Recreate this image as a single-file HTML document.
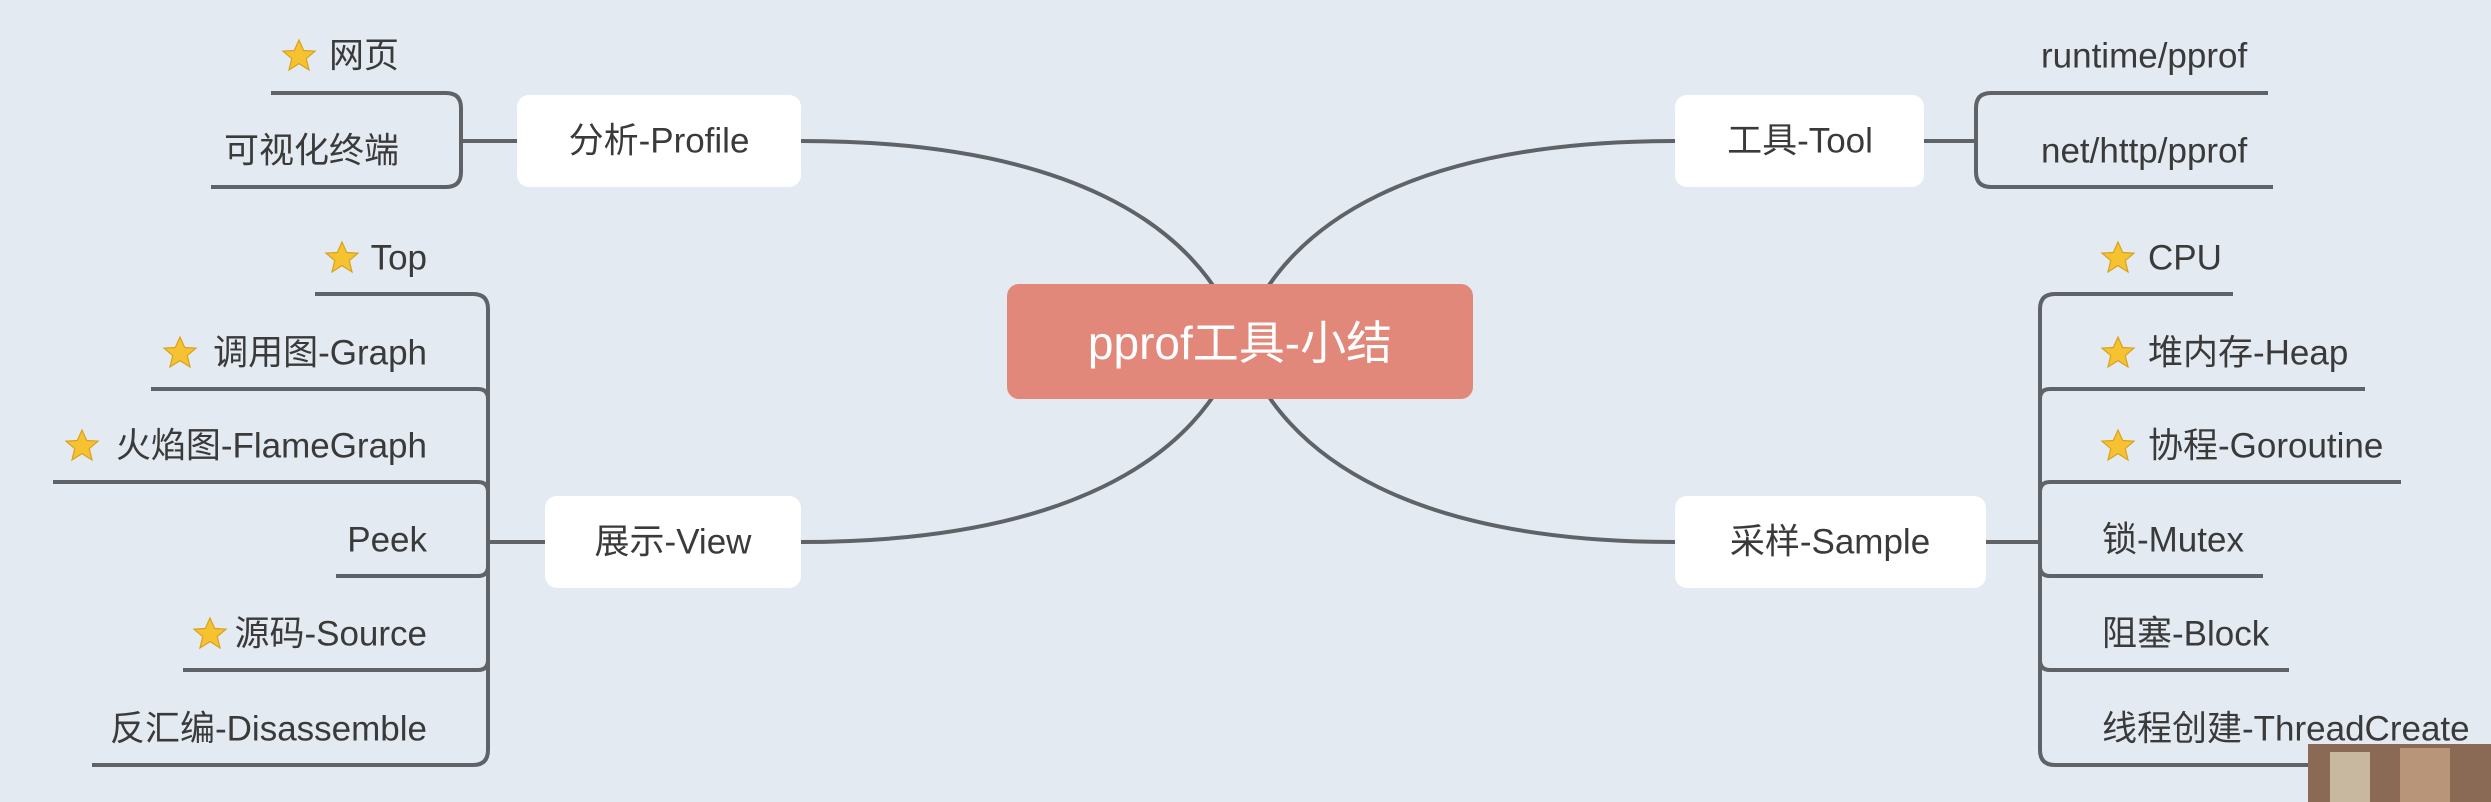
<!DOCTYPE html>
<html><head><meta charset="utf-8"><style>
html,body{margin:0;padding:0;background:#e3eaf1;}
svg{display:block}
text{font-family:"Liberation Sans","Noto Sans CJK SC",sans-serif;fill:#3a3a3a;font-size:35px;dominant-baseline:central}
</style></head><body>
<svg width="2491" height="802" viewBox="0 0 2491 802" xmlns="http://www.w3.org/2000/svg">
<defs>
<g id="star"><polygon points="0,-16 4.7,-5.5 16,-4.9 7.3,2.6 10,14 0,7.6 -10,14 -7.3,2.6 -16,-4.9 -4.7,-5.5" fill="#f6c232" stroke="#d9a21c" stroke-width="1.2"/></g>
</defs>
<g fill="none" stroke="#5f6368" stroke-width="4">
<path d="M801,141 C1060,141 1200,220 1241,341"/>
<path d="M801,542 C1060,542 1200,462 1241,341"/>
<path d="M1675,141 C1420,141 1282,220 1241,341"/>
<path d="M1675,542 C1420,542 1282,462 1241,341"/>
<path d="M271,93 H446 Q461,93 461,108 V172 Q461,187 446,187 H211"/>
<path d="M461,141 H517"/>
<path d="M315,294 H473 Q488,294 488,309 V750 Q488,765 473,765 H92"/>
<path d="M151,389 H478 Q488,389 488,399"/>
<path d="M53,482 H478 Q488,482 488,492"/>
<path d="M336,576 H478 Q488,576 488,566"/>
<path d="M183,670 H478 Q488,670 488,660"/>
<path d="M488,542 H545"/>
<path d="M2268,93 H1991 Q1976,93 1976,108 V172 Q1976,187 1991,187 H2273"/>
<path d="M1924,141 H1976"/>
<path d="M2233,294 H2055 Q2040,294 2040,309 V750 Q2040,765 2055,765 H2480"/>
<path d="M2365,389 H2050 Q2040,389 2040,399"/>
<path d="M2401,482 H2050 Q2040,482 2040,492"/>
<path d="M2263,576 H2050 Q2040,576 2040,566"/>
<path d="M2289,670 H2050 Q2040,670 2040,660"/>
<path d="M1986,542 H2040"/>
</g>
<rect x="1007" y="284" width="466" height="115" rx="12" fill="#e2887b"/>
<text x="1240" y="343" text-anchor="middle" style="fill:#fff;font-size:46px">pprof工具-小结</text>
<rect x="517" y="95" width="284" height="92" rx="12" fill="#fff"/>
<text x="659" y="141" text-anchor="middle" style="font-size:35px">分析-Profile</text>
<rect x="545" y="496" width="256" height="92" rx="12" fill="#fff"/>
<text x="673" y="542" text-anchor="middle" style="font-size:35px">展示-View</text>
<rect x="1675" y="95" width="249" height="92" rx="12" fill="#fff"/>
<text x="1800" y="141" text-anchor="middle" style="font-size:35px">工具-Tool</text>
<rect x="1675" y="496" width="311" height="92" rx="12" fill="#fff"/>
<text x="1830" y="542" text-anchor="middle" style="font-size:35px">采样-Sample</text>
<use href="#star" x="299" y="56"/><text x="399" y="56" text-anchor="end">网页</text>
<text x="399" y="151" text-anchor="end">可视化终端</text>
<use href="#star" x="342" y="258"/><text x="427" y="258" text-anchor="end">Top</text>
<use href="#star" x="180" y="353"/><text x="427" y="353" text-anchor="end">调用图-Graph</text>
<use href="#star" x="82" y="446"/><text x="427" y="446" text-anchor="end">火焰图-FlameGraph</text>
<text x="427" y="540" text-anchor="end">Peek</text>
<use href="#star" x="210" y="634"/><text x="427" y="634" text-anchor="end">源码-Source</text>
<text x="427" y="729" text-anchor="end">反汇编-Disassemble</text>
<text x="2041" y="56">runtime/pprof</text>
<text x="2041" y="151">net/http/pprof</text>
<use href="#star" x="2118" y="258"/><text x="2148" y="258">CPU</text>
<use href="#star" x="2118" y="353"/><text x="2148" y="353">堆内存-Heap</text>
<use href="#star" x="2118" y="446"/><text x="2148" y="446">协程-Goroutine</text>
<text x="2102" y="540">锁-Mutex</text>
<text x="2102" y="634">阻塞-Block</text>
<text x="2102" y="729">线程创建-ThreadCreate</text>
<rect x="2308" y="744" width="183" height="58" fill="#8a6a55"/>
<rect x="2330" y="752" width="40" height="50" fill="#c9b8a0"/>
<rect x="2400" y="748" width="50" height="54" fill="#b89478"/>
</svg>
</body></html>
